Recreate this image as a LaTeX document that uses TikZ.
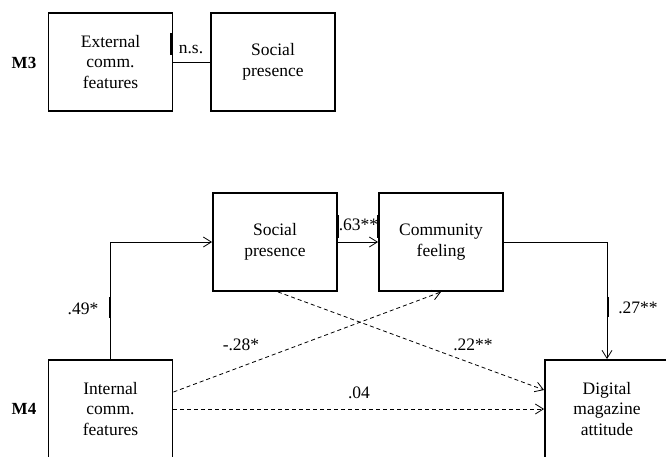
\documentclass[tikz,border=0pt]{standalone}
\usepackage{fontspec}
\setmainfont{Liberation Serif}
\usetikzlibrary{arrows.meta}

\begin{document}
\begin{tikzpicture}[x=1pt,y=-1pt,
  box/.style={draw,line width=1.9pt,minimum width=124pt,minimum height=98pt,
    align=center,inner sep=0pt,font=\fontsize{17.5}{20.5}\selectfont},
  coef/.style={anchor=base,inner sep=0pt,font=\fontsize{17.5}{20.5}\selectfont},
  model/.style={inner sep=0pt,font=\fontsize{17}{20}\selectfont\bfseries},
  link/.style={line width=0.8pt},
  arr/.style={link,-{Straight Barb[length=8pt,width=10pt]}},
  dashlink/.style={arr,dash pattern=on 4pt off 3pt},
  tickmark/.style={line width=2.6pt}]
  \useasboundingbox (0,0) rectangle (666,456);
  \node[model] (m3) at (24,63) {M3};
  \node[model] (m4) at (24,409) {M4};
  \node[box] (ext) at (110.5,62) {External\\comm.\\features};
  \node[box] (sp3) at (273,62) {Social\\presence};
  \node[box] (sp4) at (275,242) {Social\\presence};
  \node[box] (cf) at (441,242) {Community\\feeling};
  \node[box] (icf) at (110.5,409) {Internal\\comm.\\features};
  \node[box] (dma) at (607,409) {Digital\\magazine\\attitude};
  \coordinate (icfa) at (icf.north);
  \coordinate (icfb) at ([yshift=17pt]icf.east);
  \coordinate (dmaa) at ([yshift=19pt]dma.west);
  \coordinate (sp4a) at ([xshift=3pt]sp4.south);
  \draw[link] (ext.east) -- (sp3.west);
  \draw[arr] (icfa) |- (sp4.west);
  \draw[arr] (sp4.east) -- (cf.west);
  \draw[arr] (cf.east) -| (dma.north);
  \draw[dashlink] (icfb) -- (cf.south);
  \draw[dashlink] (sp4a) -- (dmaa);
  \draw[dashlink] (icf.east) -- (dma.west);
  \node[coef] (ns) at (191,53) {n.s.};
  \node[coef] (c49) at (83,314) {.49*};
  \node[coef] (c63) at (358.5,230) {.63**};
  \node[coef] (c27) at (638,313) {.27**};
  \node[coef] (c28) at (241,350) {-.28*};
  \node[coef] (c22) at (473,350) {.22**};
  \node[coef] (c04) at (359,398) {.04};
  \draw[tickmark] (171.5,33) -- (171.5,55);
  \draw[tickmark] (110,297) -- (110,318);
  \draw[tickmark] (338,215) -- (338,238);
  \draw[tickmark] (378.5,215) -- (378.5,238);
  \draw[tickmark] (608,297) -- (608,317);
\end{tikzpicture}
\end{document}
